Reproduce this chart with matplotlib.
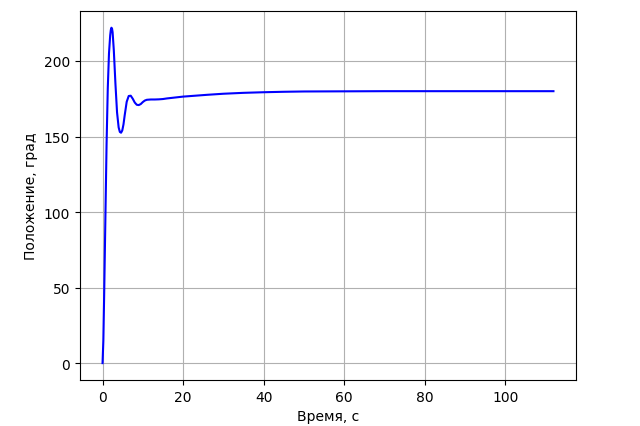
import matplotlib.pyplot as plt

# время, с
t = [0, 0.2, 0.4, 0.7, 1.0, 1.3, 1.6, 1.9, 2.05, 2.2, 2.35, 2.5, 2.8, 3.2, 3.6,
     4.0, 4.3, 4.6, 4.9, 5.2, 5.5, 6.0, 6.5, 7.0, 7.5, 8.0, 8.5, 9.0, 9.5,
     10.0, 10.5, 11.0, 12.0, 13.0, 14.0, 15.0, 16.0, 18.0, 20.0, 23.0, 26.0,
     30.0, 35.0, 40.0, 45.0, 50.0, 60.0, 70.0, 80.0, 90.0, 100.0, 112.0]
# положение, град
pos = [0, 15, 45, 95, 145, 182, 205, 217, 220.5, 222, 221.5, 219, 207, 185,
       166, 156, 153, 152.5, 154, 158, 164, 173, 176.8, 177, 175, 172.5, 171,
       170.8, 171.5, 172.8, 173.8, 174.3, 174.5, 174.5, 174.6, 174.8, 175.2,
       175.8, 176.4, 177.0, 177.6, 178.3, 178.9, 179.3, 179.6, 179.8, 179.9,
       180, 180, 180, 180, 180]

fig = plt.figure(figsize=(6.4, 4.27), dpi=100)
plt.subplots_adjust(left=0.125, right=0.9, top=0.972, bottom=0.108)
plt.plot(t, pos, color='blue')
plt.xlabel('Время, с')
plt.ylabel('Положение, град')
plt.grid(True)
plt.savefig('out.png', dpi=100)
